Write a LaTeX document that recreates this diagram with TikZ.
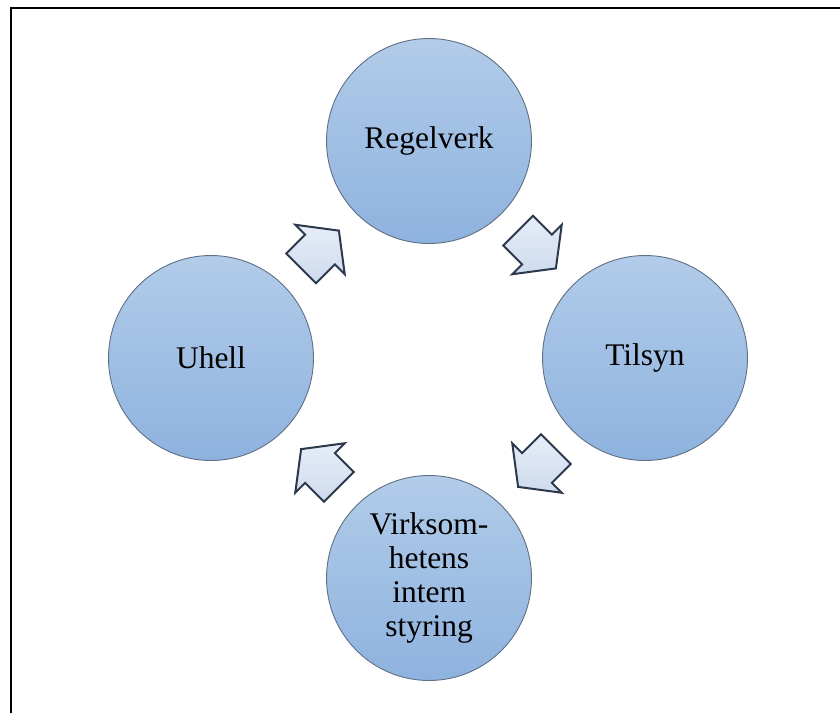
\documentclass[tikz,border=0pt]{standalone}
\usepackage{fontspec}
\setmainfont{Liberation Serif}
\usetikzlibrary{calc}

\definecolor{discTop}{RGB}{178,204,233}
\definecolor{discBottom}{RGB}{142,178,223}
\definecolor{discEdge}{RGB}{96,112,132}
\definecolor{arrowTop}{RGB}{230,237,247}
\definecolor{arrowBottom}{RGB}{206,219,238}
\definecolor{arrowEdge}{RGB}{44,56,76}

\tikzset{
  disc/.style={circle, minimum size=205pt, inner sep=0pt,
    top color=discTop, bottom color=discBottom,
    draw=discEdge, line width=0.9pt,
    font=\fontsize{31.5}{34}\selectfont, align=center},
  arrowbody/.style={draw=arrowEdge, line width=2pt, line join=miter,
    top color=arrowTop, bottom color=arrowBottom},
  % block arrow centred on its position, pointing at #1 degrees;
  % corners are given in polar form so the gradient stays upright
  blockarrow/.pic={
    \path[arrowbody]
      (#1:26.7pt) -- (#1+90:35pt) -- (#1+90:21pt) -- (#1+141.82:33.97pt)
      -- (#1-141.82:33.97pt) -- (#1-90:21pt) -- (#1-90:35pt) -- cycle;
  },
  frameline/.style={line width=2.6pt, black}
}

\begin{document}
\begin{tikzpicture}[x=1pt,y=-1pt]
  \useasboundingbox (0,0) rectangle (840,713);

  % open frame: top and left edges only
  \coordinate (frameTR) at (840,8);
  \coordinate (frameTL) at (11,8);
  \coordinate (frameBL) at (11,713);
  \draw[frameline] (frameTR) -- (frameTL) -- (frameBL);

  % the four stages of the cycle
  \node[disc] (regelverk) at (429,141) {Regelverk};
  \node[disc] (tilsyn)    at (645,358) {Tilsyn};
  \node[disc] (styring)   at (429,578) {Virksom-\\hetens\\intern\\styring};
  \node[disc] (uhell)     at (211,358) {Uhell};

  % block arrows running clockwise between the stages
  \pic at ($(uhell)!0.5!(regelverk)$)   {blockarrow=45};
  \pic at ($(regelverk)!0.5!(tilsyn)$)  {blockarrow=-45};
  \pic at ($(tilsyn)!0.5!(styring)$)    {blockarrow=-135};
  \pic at ($(styring)!0.5!(uhell)$)     {blockarrow=135};
\end{tikzpicture}
\end{document}
